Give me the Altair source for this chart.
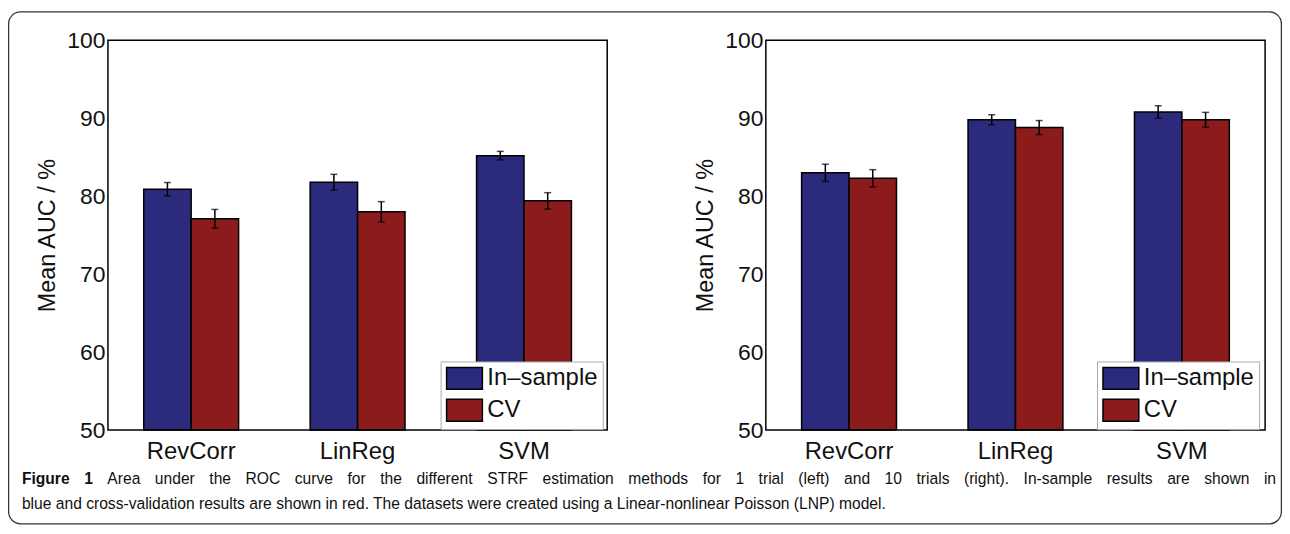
import altair as alt
import pandas as pd

# ---------------- data ----------------
methods = ["RevCorr", "LinReg", "SVM"]
series = ["In–sample", "CV"]
colors = ["#2b2a7d", "#8c1b1b"]

# 1 trial (left panel)
left_insample = [80.9, 81.8, 85.2]
left_insample_err = [0.85, 1.0, 0.55]
left_cv = [77.1, 78.0, 79.4]
left_cv_err = [1.2, 1.3, 1.05]

# 10 trials (right panel)
right_insample = [83.0, 89.8, 90.8]
right_insample_err = [1.1, 0.65, 0.8]
right_cv = [82.3, 88.8, 89.8]
right_cv_err = [1.1, 0.9, 0.95]

y_ticks = [50, 60, 70, 80, 90, 100]
y_title = "Mean AUC / %"

caption_bold = "Figure 1"
caption_line1 = "Area under the ROC curve for the different STRF estimation methods for 1 trial (left) and 10 trials (right). In-sample results are shown in"
caption_line2 = "blue and cross-validation results are shown in red. The datasets were created using a Linear-nonlinear Poisson (LNP) model."

# ---------------- layout ----------------
FONT = "Liberation Sans"
CAP_FONT = "Liberation Sans"
CAP_SIZE = 15.7
W, H = 1281, 518
Y_TOP, Y_BOT = 31, 423
LEFT_X = (100.5, 602.5)
RIGHT_X = (762.0, 1264.0)
CAP_X0, CAP_X1 = 14, 1275
CAP_Y1, CAP_Y2 = 477, 502

# approximate Arial/Liberation advance widths (per 1000 em) for justifying line 1
REG = {" ": 278, "A": 667, "r": 333, "e": 556, "a": 556, "u": 556, "n": 556, "d": 556,
       "t": 278, "h": 556, "R": 722, "O": 778, "C": 722, "c": 500, "v": 500, "f": 278,
       "o": 556, "i": 222, "s": 500, "m": 833, "1": 556, "0": 556, "l": 222, "(": 333,
       ")": 333, ".": 278, "I": 278, "-": 333, "p": 556, "S": 667, "T": 611, "F": 611,
       "g": 556, "w": 722}
BOLD = {"F": 611, "i": 278, "g": 611, "u": 611, "r": 389, "e": 556, "1": 556, " ": 278}


def text_width(word, table):
    return sum(table.get(ch, 556) for ch in word) * CAP_SIZE / 1000.0


def make_df(ins, ins_err, cv, cv_err):
    rows = []
    for vals, errs, s in ((ins, ins_err, series[0]), (cv, cv_err, series[1])):
        for m, v, e in zip(methods, vals, errs):
            rows.append({"method": m, "series": s, "auc": v, "lo": v - e, "hi": v + e})
    return pd.DataFrame(rows)


def panel(df, xr, legend_x):
    x0, x1 = xr
    xscale = alt.Scale(domain=methods, range=[x0, x1], paddingInner=0.43, paddingOuter=0.215)
    xaxis = alt.Axis(orient="bottom", offset=-(H - Y_BOT), title=None, labelAngle=0,
                     labelFont=FONT, labelFontSize=24, labelColor="#111", labelPadding=10,
                     ticks=False, domain=False, grid=False)
    yscale = alt.Scale(domain=[50, 100], range=[Y_BOT, Y_TOP], nice=False, zero=False)
    yaxis = alt.Axis(orient="left", offset=-x0, values=y_ticks, title=y_title,
                     labelFont=FONT, labelFontSize=23, labelColor="#111", labelPadding=3,
                     ticks=False, domain=False, grid=False,
                     titleFont=FONT, titleFontSize=23.5, titleFontWeight="normal",
                     titleColor="#111", titlePadding=7)
    xenc = alt.X("method:N", sort=methods, scale=xscale, axis=xaxis)
    xoff = alt.XOffset("series:N", sort=series, scale=alt.Scale(domain=series))
    legend = alt.Legend(orient="none", legendX=legend_x, legendY=354, title=None,
                        symbolType="M-1.636,-1L1.636,-1L1.636,1L-1.636,1Z", symbolSize=484,
                        symbolOffset=7,
                        symbolStrokeColor="black", symbolStrokeWidth=1.5, symbolOpacity=1,
                        labelFont=FONT, labelFontSize=24, labelColor="#111", labelOffset=11,
                        padding=5, rowPadding=4, strokeColor="#aaa", fillColor="white",
                        direction="vertical")
    base = alt.Chart(df)
    bars = base.mark_bar(stroke="black", strokeWidth=1.5).encode(
        x=xenc, xOffset=xoff,
        y=alt.Y("auc:Q", scale=yscale, axis=yaxis), y2=alt.Y2(datum=50),
        color=alt.Color("series:N", sort=series, scale=alt.Scale(domain=series, range=colors), legend=legend),
    )
    rules = base.mark_rule(color="black", strokeWidth=1.5).encode(
        x=xenc, xOffset=xoff, y=alt.Y("lo:Q", scale=yscale, axis=yaxis), y2="hi:Q")
    cap_lo = base.mark_tick(color="black", orient="horizontal", size=7, thickness=1.5).encode(
        x=xenc, xOffset=xoff, y=alt.Y("lo:Q", scale=yscale, axis=yaxis))
    cap_hi = base.mark_tick(color="black", orient="horizontal", size=7, thickness=1.5).encode(
        x=xenc, xOffset=xoff, y=alt.Y("hi:Q", scale=yscale, axis=yaxis))
    box = alt.Chart(pd.DataFrame({"k": [0]})).mark_rect(
        fill="transparent", stroke="black", strokeWidth=1.5).encode(
        x=alt.value(x0), x2=alt.value(x1), y=alt.value(Y_TOP), y2=alt.value(Y_BOT))
    return alt.layer(bars, rules, cap_lo, cap_hi, box)


left = panel(make_df(left_insample, left_insample_err, left_cv, left_cv_err), LEFT_X, 435)
right = panel(make_df(right_insample, right_insample_err, right_cv, right_cv_err), RIGHT_X, 1095)

frame = alt.Chart(pd.DataFrame({"k": [0]})).mark_rect(
    fill="transparent", stroke="#333", strokeWidth=1.3, cornerRadius=12).encode(
    x=alt.value(0.6), x2=alt.value(W - 0.6), y=alt.value(2.5), y2=alt.value(H - 0.8))

# justified first caption line: bold words + regular words spread over full width
words = [(w, True) for w in caption_bold.split(" ")] + [(w, False) for w in caption_line1.split(" ")]
widths = [text_width(w, BOLD if b else REG) for w, b in words]
gap = (CAP_X1 - CAP_X0 - sum(widths)) / (len(words) - 1)
xpos, cur = [], CAP_X0
for wd in widths:
    xpos.append(cur)
    cur += wd + gap
cap_words = pd.DataFrame({"t": [w for w, _ in words], "bold": [b for _, b in words], "x": xpos})
last_idx = len(words) - 1

px = alt.Scale(domain=[0, W], range=[0, W])
cap_b = alt.Chart(cap_words[cap_words["bold"]]).mark_text(
    align="left", baseline="alphabetic", font=CAP_FONT, fontSize=CAP_SIZE, fontWeight="bold", color="#111").encode(
    x=alt.X("x:Q", scale=px, axis=None), y=alt.value(CAP_Y1), text="t:N")
cap_1 = alt.Chart(cap_words[(~cap_words["bold"]) & (cap_words.index < last_idx)]).mark_text(
    align="left", baseline="alphabetic", font=CAP_FONT, fontSize=CAP_SIZE, color="#111").encode(
    x=alt.X("x:Q", scale=px, axis=None), y=alt.value(CAP_Y1), text="t:N")
cap_last = alt.Chart(pd.DataFrame({"t": [words[-1][0]]})).mark_text(
    align="right", baseline="alphabetic", font=CAP_FONT, fontSize=CAP_SIZE, color="#111").encode(
    x=alt.value(CAP_X1), y=alt.value(CAP_Y1), text="t:N")
cap_2 = alt.Chart(pd.DataFrame({"t": [caption_line2]})).mark_text(
    align="left", baseline="alphabetic", font=CAP_FONT, fontSize=CAP_SIZE, color="#111").encode(
    x=alt.value(CAP_X0), y=alt.value(CAP_Y2), text="t:N")

caption = alt.layer(cap_b, cap_1, cap_last, cap_2)

chart = alt.layer(frame, left, right, caption).resolve_scale(
    x="independent", y="independent", color="independent", xOffset="independent"
).properties(
    width=W, height=H, padding=0,
    autosize=alt.AutoSizeParams(type="none"),
).configure_view(stroke=None)

chart.save("out.html", embed_options={"renderer": "svg", "actions": False})
